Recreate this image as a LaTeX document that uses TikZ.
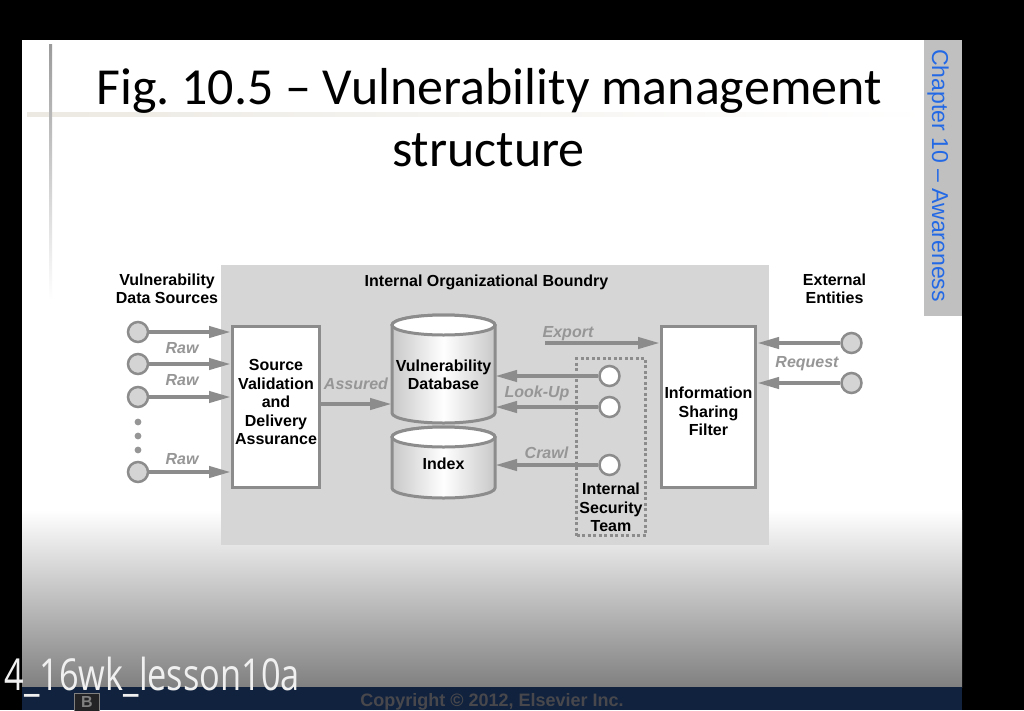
\documentclass[tikz,border=0pt]{standalone}
\usepackage{fontspec}
\setmainfont{Liberation Sans}
\newfontfamily\calib{Carlito}
\newfontfamily\osans{Open Sans}
\usetikzlibrary{arrows.meta}
\frenchspacing
\definecolor{lgray}{RGB}{140,140,140}
\definecolor{labgray}{RGB}{150,150,150}
\definecolor{boundgray}{RGB}{214,214,214}
\definecolor{srcfill}{RGB}{212,212,212}
\definecolor{cylgray}{RGB}{200,200,200}
\definecolor{tabgray}{RGB}{192,192,192}
\definecolor{tabblue}{RGB}{35,105,230}
\definecolor{navy}{RGB}{16,34,62}
\definecolor{copygray}{RGB}{72,72,76}
\definecolor{beige}{RGB}{236,233,226}
\definecolor{botgray}{RGB}{128,128,128}
\definecolor{vlinegray}{RGB}{155,155,155}
\definecolor{dotgray}{RGB}{150,150,150}
\definecolor{bfill}{RGB}{35,35,38}
\tikzset{
  arr/.style={draw=lgray, line width=4pt, -{Triangle[length=22pt,width=11pt]}},
  hdr/.style={font=\bfseries\fontsize{16}{18.5}\selectfont, align=center, inner sep=0pt},
  lbl/.style={font=\bfseries\fontsize{16}{18.5}\selectfont, align=center, inner sep=0pt},
  flowlbl/.style={font=\bfseries\itshape\fontsize{16}{18.5}\selectfont, text=labgray, inner sep=0pt, anchor=base},
  procbox/.style={draw=lgray, fill=white, line width=3pt, inner sep=0pt},
  srccirc/.style={circle, draw=lgray, fill=srcfill, line width=2.5pt, minimum size=20pt, inner sep=0pt},
  teamcirc/.style={circle, draw=lgray, fill=white, line width=2.5pt, minimum size=20pt, inner sep=0pt},
  cylbody/.style={draw=lgray, line width=3pt, left color=cylgray, right color=cylgray, middle color=white},
  cyltop/.style={draw=lgray, line width=3pt, fill=white},
  dashbox/.style={draw=lgray, line width=3pt, dash pattern=on 3pt off 2.5pt, inner sep=0pt},
  ghost/.style={inner sep=0pt, outer sep=0pt}
}
\begin{document}
\begin{tikzpicture}[x=1pt,y=-1pt]
\useasboundingbox (0,0) rectangle (1024,710);
% screen background
\fill[black] (0,0) rectangle (1024,710);
\fill[white] (22,40) rectangle (962,687);
\shade[top color=white,bottom color=botgray] (22,510) rectangle (962,687);
\fill[navy] (22,687) rectangle (962,710);
% decorative slide lines
\shade[left color=beige,right color=white] (27,112) rectangle (930,116);
\shade[top color=vlinegray,bottom color=white] (49,44) rectangle (52,300);
% chapter tab
\fill[tabgray] (924,40) rectangle (962,316);
\node[rotate=-90, anchor=base, text=tabblue, font=\fontsize{23}{26}\selectfont, inner sep=0pt] (tab) at (932,175.5) {Chapter 10 – Awareness};
% title
\node[font=\calib\fontsize{52}{60}\selectfont, anchor=base, inner sep=0pt] (t1) at (489,104) {Fig. 10.5 – Vulnerability management};
\node[font=\calib\fontsize{52}{60}\selectfont, anchor=base, inner sep=0pt] (t2) at (488.5,166) {structure};
% boundary
\fill[boundgray] (221,265) rectangle (769,545);
\node[hdr, anchor=base] (bnd) at (486.5,286) {Internal Organizational Boundry};
\node[hdr] (vds) at (167,289) {Vulnerability\\Data Sources};
\node[hdr] (ext) at (834.5,289) {External\\Entities};
% boxes
\node[procbox, minimum width=87pt, minimum height=161pt] (svb) at (276,407) {};
\node[lbl] (svbt) at (276,402) {Source\\Validation\\and\\Delivery\\Assurance};
\node[procbox, minimum width=94pt, minimum height=161pt] (isf) at (708.5,407) {};
\node[lbl] (isft) at (708.5,411.5) {Information\\Sharing\\Filter};
\node[dashbox, minimum width=69pt, minimum height=177pt] (ist) at (611,447) {};
\node[lbl] (istt) at (611,507.5) {Internal\\Security\\Team};
% database cylinder
\shadedraw[cylbody] (392,325) -- (392,413) arc (180:0:51.5 and 10) -- (495,325) arc (0:-180:51.5 and 10) -- cycle;
\filldraw[cyltop] (443.5,325) ellipse (51.5 and 10);
\node[ghost, minimum width=103pt, minimum height=109pt] (db) at (443.5,368.5) {};
\node[lbl] (dbt) at (443.5,375) {Vulnerability\\Database};
% index cylinder
\shadedraw[cylbody] (392,437) -- (392,488) arc (180:0:51.5 and 10) -- (495,437) arc (0:-180:51.5 and 10) -- cycle;
\filldraw[cyltop] (443.5,437) ellipse (51.5 and 10);
\node[ghost, minimum width=103pt, minimum height=71pt] (idx) at (443.5,462.5) {};
\node[lbl] (idxt) at (443.5,464) {Index};
% source circles
\node[srccirc] (s1) at (138,332) {};
\node[srccirc] (s2) at (138,364) {};
\node[srccirc] (s3) at (138,397) {};
\node[srccirc] (s4) at (138,472) {};
\fill[dotgray] (138,422) circle (3.4);
\fill[dotgray] (138,436) circle (3.4);
\fill[dotgray] (138,450) circle (3.4);
% team circles
\node[teamcirc] (c1) at (609.5,376) {};
\node[teamcirc] (c2) at (609.5,407) {};
\node[teamcirc] (c3) at (609.5,465) {};
% external circles
\node[srccirc] (r1) at (851.5,343) {};
\node[srccirc] (r2) at (851.5,383) {};
% arrows
\draw[arr] (s1) -- (s1 -| svb.west);
\draw[arr] (s2) -- (s2 -| svb.west);
\draw[arr] (s3) -- (s3 -| svb.west);
\draw[arr] (s4) -- (s4 -| svb.west);
\coordinate (asd) at ([yshift=3pt]svb.east);
\draw[arr] (asd) -- (asd -| db.west);
\draw[arr] (c1) -- (c1 -| db.east);
\draw[arr] (c2) -- (c2 -| db.east);
\draw[arr] (c3) -- (c3 -| idx.east);
\coordinate (exs) at (545,343);
\draw[arr] (exs) -- (exs -| isf.west);
\draw[arr] (r1) -- (r1 -| isf.east);
\draw[arr] (r2) -- (r2 -| isf.east);
% flow labels
\node[flowlbl] (raw1) at (182,353) {Raw};
\node[flowlbl] (raw2) at (182,385) {Raw};
\node[flowlbl] (raw3) at (182,464) {Raw};
\node[flowlbl] (asl) at (356,389.5) {Assured};
\node[flowlbl] (exl) at (568,337) {Export};
\node[flowlbl] (lul) at (537,397) {Look-Up};
\node[flowlbl] (crl) at (546.5,458.5) {Crawl};
\node[flowlbl] (rql) at (807,367.5) {Request};
% bottom bar
\node[anchor=base, font=\bfseries\fontsize{18}{20}\selectfont, text=copygray, inner sep=0pt] (copy) at (492,706) {Copyright © 2012, Elsevier Inc.};
\node[fill=bfill, draw=gray, line width=1pt, minimum width=25pt, minimum height=18pt, inner sep=0pt, text=gray, font=\bfseries\fontsize{16}{18}\selectfont] (bkey) at (87,702) {B};
\node[anchor=base east, text=white!88!gray, font=\osans\fontsize{44}{50}\selectfont, inner sep=0pt] (lesson) at (300,690) {\scalebox{0.78}[1]{4\_16wk\_lesson10a}};
\end{tikzpicture}
\end{document}
